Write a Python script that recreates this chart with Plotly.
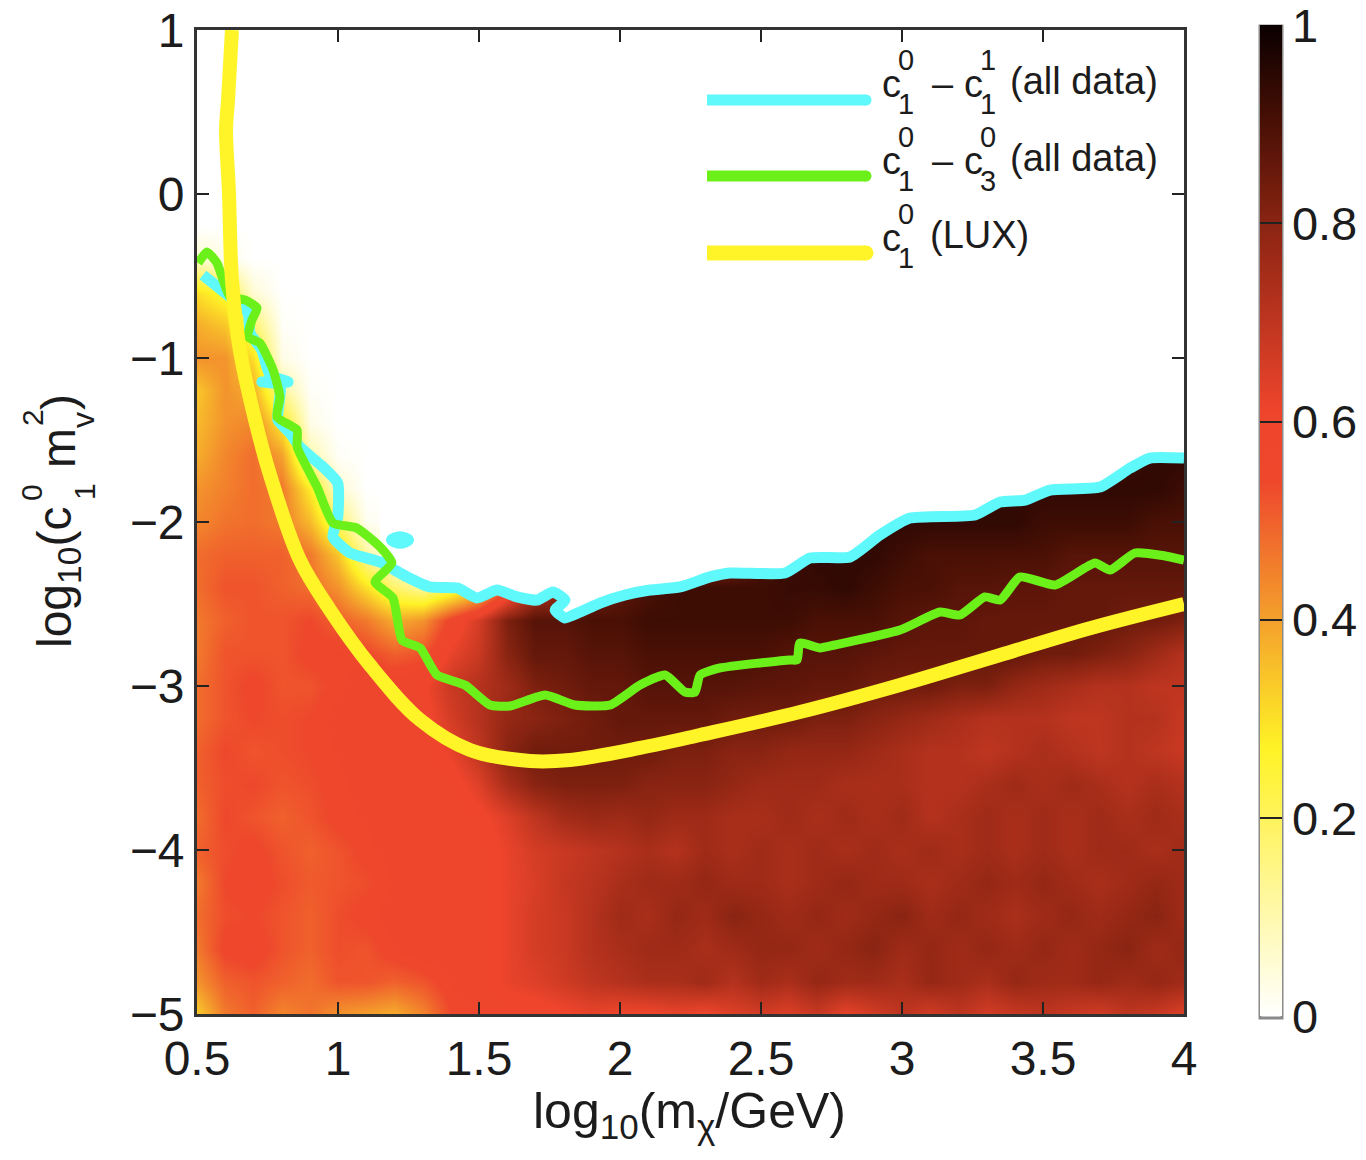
import plotly.graph_objects as go

x_centres = [0.5 + 0.1 * i for i in range(36)]
y_centres = [-5.0 + 0.2 * i for i in range(25)]

row_m50 = [33,46,50,44,47,42,40,38,44,54,56,58,58,60,62,60,60,62,60,64,66,64,68,62,66,70,66,70,66,68,70,68,66,70,68,64]
row_m48 = [42,50,52,50,48,52,52,50,52,56,58,62,64,67,70,72,74,74,76,72,76,74,78,76,76,74,78,76,74,78,76,76,78,76,78,76]
row_m46 = [46,55,56,52,50,53,52,56,58,58,58,62,66,68,72,74,76,76,74,76,78,78,76,78,80,76,78,76,78,76,78,76,78,80,76,78]
row_m44 = [48,53,54,52,50,53,55,57,58,58,58,62,66,68,72,76,74,78,76,80,78,76,78,76,78,80,76,78,76,74,76,78,76,78,80,76]
row_m42 = [46,54,56,53,51,52,53,56,58,58,58,62,65,69,71,74,76,76,78,76,76,74,76,78,76,76,74,76,78,76,78,76,74,76,78,76]
row_m40 = [50,53,55,52,50,52,55,57,58,56,58,62,66,68,70,72,74,72,76,74,76,74,76,74,76,74,76,74,76,74,76,74,76,76,74,76]
row_m38 = [48,54,52,50,52,55,56,58,58,58,59,64,70,75,77,76,78,76,76,74,74,76,74,76,74,76,72,74,76,74,76,74,76,74,76,74]
row_m36 = [50,53,54,52,53,55,57,58,58,58,64,74,80,82,82,82,80,80,80,78,76,76,76,74,74,74,72,72,74,76,74,76,74,72,74,72]
row_m34 = [50,54,52,53,54,56,58,58,58,62,70,80,84,84,84,84,84,82,82,80,80,78,78,78,76,74,72,72,70,72,74,72,70,72,70,68]
row_m32 = [48,52,54,53,54,57,58,58,58,66,72,78,80,82,84,86,86,86,86,84,84,84,82,82,80,78,76,74,72,72,72,70,70,72,72,68]
row_m30 = [48,52,55,52,52,55,58,58,60,68,72,76,82,84,86,86,88,88,88,88,87,87,86,86,84,84,84,82,82,78,76,74,72,72,70,70]
row_m28 = [46,52,52,52,55,56,54,50,52,62,68,80,86,86,88,88,90,90,90,90,90,88,88,88,87,86,86,86,86,86,84,84,82,80,76,72]
row_m26 = [46,50,52,52,54,50,46,38,42,56,66,82,88,88,90,90,92,92,92,92,92,92,90,90,90,88,87,87,86,86,86,86,86,84,84,82]
row_m24 = [48,52,52,50,48,42,30,18,12,20,30,50,72,76,82,86,90,92,92,92,92,93,93,94,92,90,90,88,88,87,87,86,86,86,86,86]
row_m22 = [48,50,50,50,46,34,12,1,0,0,0,0,0,0,0,0,0,60,70,80,88,92,94,94,94,92,90,90,90,90,90,88,88,88,88,88]
row_m20 = [44,47,48,46,36,18,2,0,0,0,0,0,0,0,0,0,0,0,0,0,0,70,80,90,94,94,94,94,94,94,92,92,92,92,90,90]
row_m18 = [42,45,48,46,28,6,0,0,0,0,0,0,0,0,0,0,0,0,0,0,0,0,0,0,0,70,88,92,94,94,94,94,94,94,94,92]
row_m16 = [38,44,48,40,10,1,0,0,0,0,0,0,0,0,0,0,0,0,0,0,0,0,0,0,0,0,0,0,0,0,0,80,90,92,94,94]
row_m14 = [36,42,44,28,3,0,0,0,0,0,0,0,0,0,0,0,0,0,0,0,0,0,0,0,0,0,0,0,0,0,0,0,0,0,0,0]
row_m12 = [34,42,38,12,1,0,0,0,0,0,0,0,0,0,0,0,0,0,0,0,0,0,0,0,0,0,0,0,0,0,0,0,0,0,0,0]
row_m10 = [42,42,30,3,0,0,0,0,0,0,0,0,0,0,0,0,0,0,0,0,0,0,0,0,0,0,0,0,0,0,0,0,0,0,0,0]
row_m08 = [38,34,18,1,0,0,0,0,0,0,0,0,0,0,0,0,0,0,0,0,0,0,0,0,0,0,0,0,0,0,0,0,0,0,0,0]
row_m06 = [30,24,5,0,0,0,0,0,0,0,0,0,0,0,0,0,0,0,0,0,0,0,0,0,0,0,0,0,0,0,0,0,0,0,0,0]
row_m04 = [6,3,0,0,0,0,0,0,0,0,0,0,0,0,0,0,0,0,0,0,0,0,0,0,0,0,0,0,0,0,0,0,0,0,0,0]
row_m02 = [0,0,0,0,0,0,0,0,0,0,0,0,0,0,0,0,0,0,0,0,0,0,0,0,0,0,0,0,0,0,0,0,0,0,0,0]

prob_rows = [row_m50,row_m48,row_m46,row_m44,row_m42,row_m40,row_m38,row_m36,row_m34,row_m32,row_m30,row_m28,
             row_m26,row_m24,row_m22,row_m20,row_m18,row_m16,row_m14,row_m12,row_m10,row_m08,row_m06,row_m04,row_m02]

cyan_x = [.521,.617,.681,.688,.730,.759,.823,.730,.794,.787,.830,.865,.947,.999,.999,.982,1.043,1.149,1.245,1.326,1.422,1.493,1.564,1.635,1.706,1.762,1.805,1.770,1.805,1.858,1.929,2.018,2.106,2.213,2.319,2.390,2.585,2.674,2.816,2.922,3.028,3.259,3.348,3.436,3.525,3.702,3.809,3.879,4.0]
cyan_y = [-.494,-.628,-.726,-.848,-.951,-1.104,-1.146,-1.146,-1.165,-1.378,-1.457,-1.543,-1.665,-1.762,-1.970,-2.091,-2.189,-2.244,-2.335,-2.396,-2.402,-2.463,-2.415,-2.457,-2.476,-2.427,-2.476,-2.537,-2.585,-2.549,-2.494,-2.445,-2.415,-2.396,-2.335,-2.311,-2.311,-2.220,-2.213,-2.079,-1.976,-1.957,-1.878,-1.866,-1.805,-1.787,-1.671,-1.610,-1.610]
island_x = [1.19,1.22,1.25,1.22,1.19]
island_y = [-2.11,-2.09,-2.11,-2.13,-2.11]

green_x = [.504,.535,.571,.617,.670,.713,.695,.681,.723,.770,.794,.784,.855,.855,.926,.982,1.067,1.149,1.191,1.131,1.195,1.227,1.291,1.351,1.450,1.539,1.610,1.734,1.840,1.965,2.071,2.160,2.230,2.266,2.284,2.355,2.603,2.628,2.638,2.709,2.762,2.993,3.135,3.206,3.294,3.348,3.418,3.543,3.684,3.738,3.826,3.933,4.0]
green_y = [-.421,-.354,-.421,-.628,-.646,-.695,-.768,-.872,-.909,-1.073,-1.238,-1.360,-1.439,-1.543,-1.787,-2.006,-2.037,-2.152,-2.250,-2.366,-2.463,-2.720,-2.768,-2.933,-2.994,-3.116,-3.122,-3.055,-3.116,-3.116,-2.994,-2.933,-3.037,-3.037,-2.933,-2.890,-2.841,-2.841,-2.738,-2.768,-2.750,-2.659,-2.549,-2.567,-2.457,-2.476,-2.335,-2.384,-2.250,-2.293,-2.189,-2.207,-2.232]

yellow_x = [.624,.610,.603,.613,.624,.652,.706,.759,.865,.972,1.113,1.291,1.468,1.681,1.823,2.071,2.284,2.638,2.993,3.348,3.670,4.0]
yellow_y = [1,.573,.390,.024,-.524,-.951,-1.378,-1.713,-2.232,-2.537,-2.872,-3.207,-3.390,-3.457,-3.451,-3.378,-3.299,-3.159,-2.994,-2.811,-2.646,-2.500]

x_ticks = [0.5,1,1.5,2,2.5,3,3.5,4]
x_labels = ["0.5","1","1.5","2","2.5","3","3.5","4"]
y_ticks = [1,0,-1,-2,-3,-4,-5]
y_labels = ["1","0","\u22121","\u22122","\u22123","\u22124","\u22125"]
bar_ticks = [0,.2,.4,.6,.8,1]
bar_labels = ["0","0.2","0.4","0.6","0.8","1"]

W, H = 1350, 1140
OFF = 8
L, R, T, B = 197, 1184, 30, 1014
FONT = "Liberation Sans"
INK = "#1c1c1c"
CYAN, GREEN, YELLOW = "#5ff8fb", "#6cf01a", "#fff428"

colorscale = [[0,"#ffffff"],[.2,"#fff35c"],[.27,"#fff326"],[.4,"#f4a02c"],[.54,"#ee472c"],[.61,"#ee452c"],
              [.8,"#8a2412"],[.9,"#4a1005"],[1,"#0a0000"]]


def px(v):
    return (v - L) / (R - L)


def py(v):
    return 1 - (v - T) / (B - T)


fig = go.Figure()
fig.add_trace(go.Heatmap(
    x=x_centres, y=y_centres, z=[[v / 100 for v in r] for r in prob_rows],
    zmin=0, zmax=1, zsmooth="best", colorscale=colorscale, hoverinfo="skip",
    colorbar=dict(xref="container", yref="container", x=(1260 - OFF) / W, xanchor="left",
                  y=1 - (28 - OFF) / H, yanchor="top", lenmode="pixels", len=991,
                  thickness=22, thicknessmode="pixels", outlinewidth=0,
                  tickmode="array", tickvals=bar_ticks, ticktext=bar_labels, ticks="inside",
                  ticklen=22, tickcolor="#222222", tickwidth=2, xpad=0, ypad=0,
                  tickfont=dict(family=FONT, size=47, color=INK)),
))
# White region above the sharp upper contour of the posterior
mask_i = cyan_x.index(1.149)
fig.add_trace(go.Scatter(x=cyan_x[mask_i:] + [4.0, 1.149], y=cyan_y[mask_i:] + [1, 1], mode="lines", fill="toself",
                         fillcolor="white", line=dict(width=0), hoverinfo="skip", showlegend=False))
fig.add_trace(go.Scatter(x=cyan_x, y=cyan_y, mode="lines", line=dict(color=CYAN, width=11, shape="spline", smoothing=0.5), name="c1^0 - c1^1 (all data)", showlegend=False))
fig.add_trace(go.Scatter(x=island_x, y=island_y, mode="lines", line=dict(color=CYAN, width=11, shape="spline"), showlegend=False))
fig.add_trace(go.Scatter(x=green_x, y=green_y, mode="lines", line=dict(color=GREEN, width=9, shape="spline", smoothing=0.5), name="c1^0 - c3^0 (all data)", showlegend=False))
fig.add_trace(go.Scatter(x=yellow_x, y=yellow_y, mode="lines", line=dict(color=YELLOW, width=14, shape="spline", smoothing=1.0), name="c1^0 (LUX)", showlegend=False))


def label(text, xp, yp, size=38, anchor="left", angle=0):
    fig.add_annotation(text=text, x=px(xp), y=py(yp), xref="paper", yref="paper", showarrow=False,
                       xanchor=anchor, yanchor="middle", textangle=angle,
                       font=dict(family=FONT, size=size, color=INK))


# Legend swatches, stacked sub/superscript labels and colour bar frame
shapes = [dict(type="rect", xref="paper", yref="paper", x0=px(1260), x1=px(1282), y0=py(1018), y1=py(26),
               line=dict(color="#8a8a8a", width=3))]
for colour, yp, th in [(CYAN, 100, 11), (GREEN, 176, 11), (YELLOW, 253, 15)]:
    shapes.append(dict(type="line", xref="paper", yref="paper", x0=px(707), x1=px(866), y0=py(yp), y1=py(yp),
                       line=dict(color=colour, width=th)))
    shapes.append(dict(type="circle", xref="paper", yref="paper", x0=px(866 - th / 2), x1=px(866 + th / 2),
                       y0=py(yp + th / 2), y1=py(yp - th / 2), fillcolor=colour, line=dict(width=0)))

for dy in (0, 77, 154):
    label("c", 880, 84 + dy)
    label("0", 906, 60 + dy, 29, "center")
    label("1", 906, 104 + dy, 29, "center")
for dy, sup, sub in ((0, "1", "1"), (77, "0", "3")):
    label("\u2013", 930, 84 + dy)
    label("c", 962, 84 + dy)
    label(sup, 988, 60 + dy, 29, "center")
    label(sub, 988, 104 + dy, 29, "center")
    label("(all data)", 1008, 81 + dy)
label("(LUX)", 928, 235)

# Axis titles
label("log<sub>10</sub>(m<sub>\u03c7</sub>/GeV)", 689, 1114, 50, "center")
label("log<sub>10</sub>(c", 58, 578, 48, "center", -90)
label("1", 84, 492, 30, "center", -90)
label("0", 32, 493, 30, "center", -90)
label("m", 58, 448, 48, "center", -90)
label("v", 83, 420, 32, "center", -90)
label("2", 32, 418, 30, "center", -90)
label(")", 58, 402, 48, "center", -90)

axis_common = dict(showgrid=False, zeroline=False, showline=True, mirror="ticks", linecolor="#333333", linewidth=3,
                   ticks="inside", ticklen=12, tickwidth=2, tickcolor="#222222", ticklabeloverflow="allow", automargin=False,
                   tickfont=dict(family=FONT, size=48, color=INK), tickmode="array")
fig.update_layout(
    width=W, height=H, paper_bgcolor="white", plot_bgcolor="white", showlegend=False, shapes=shapes,
    margin=dict(l=L - OFF, r=W - (R - OFF), t=T - OFF, b=H - (B - OFF), pad=0),
    xaxis=dict(range=[0.5, 4], tickvals=x_ticks, ticktext=x_labels, **axis_common),
    yaxis=dict(range=[-5, 1], tickvals=y_ticks, ticktext=y_labels, **axis_common),
)
fig.write_html("out.html")
